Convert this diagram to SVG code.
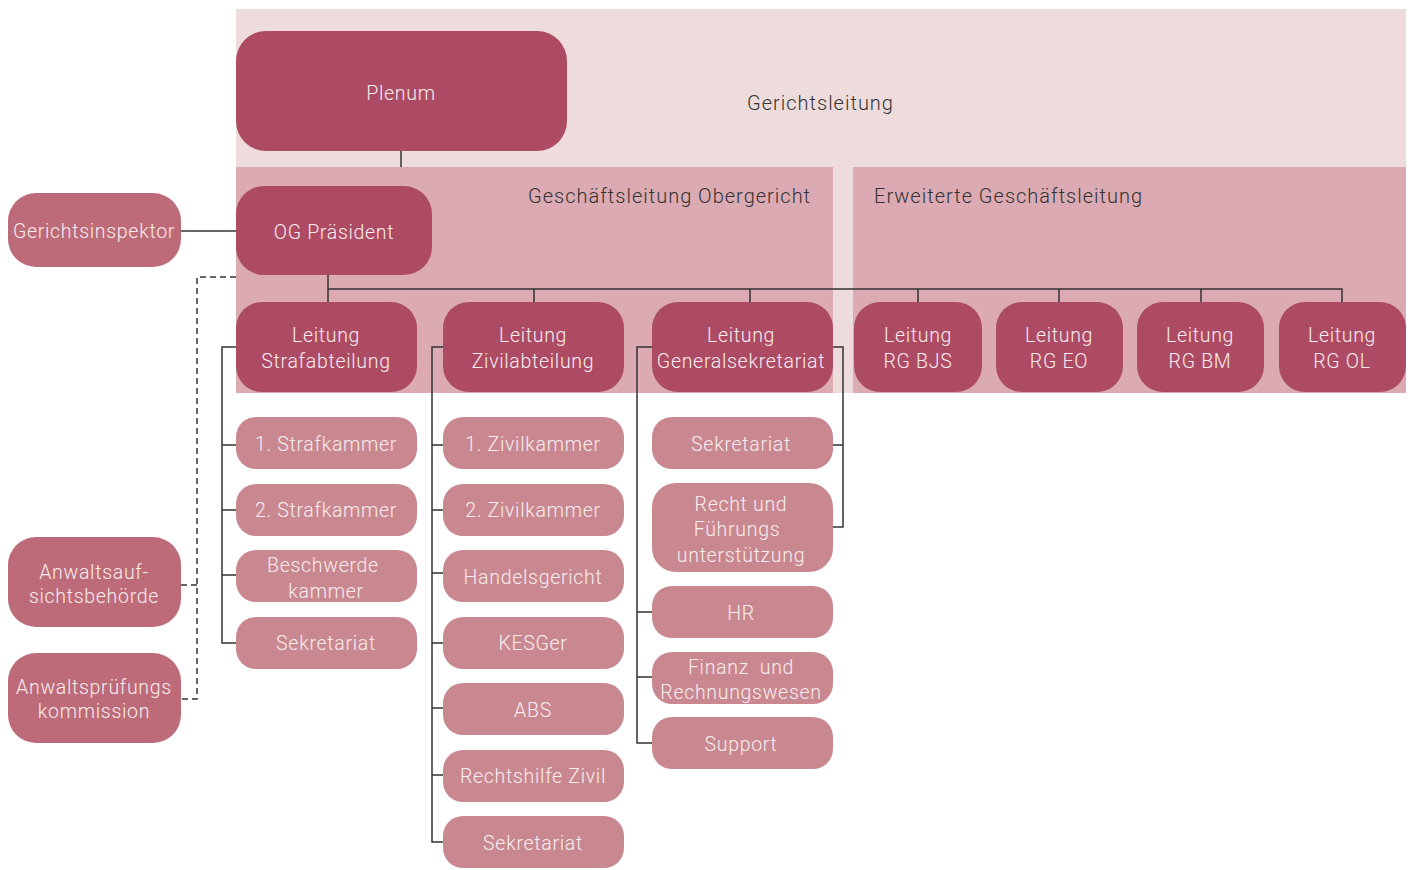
<svg xmlns="http://www.w3.org/2000/svg" width="1414" height="870" viewBox="0 0 1414 870">
<style>
text{font-family:Roboto,"Liberation Sans",sans-serif;font-weight:300;font-size:19.5px;letter-spacing:0.7px;text-anchor:middle;dominant-baseline:central;fill:#f8ecee}
.lbl{fill:#333;text-anchor:start;font-size:20px;letter-spacing:1px}
.dark{fill:#ad4b64}
.mid{fill:#bd6b78}
.light{fill:#c98890}
.ln{stroke:#333;stroke-width:1.5;fill:none}
.dash{stroke:#333;stroke-width:1.5;fill:none;stroke-dasharray:6 4}
</style>
<g id="backgrounds">
<rect x="236" y="9" width="1170" height="384" fill="#eedcdd"/>
<rect x="236" y="167" width="597" height="226" fill="#dbaab2"/>
<rect x="853" y="167" width="553" height="226" fill="#dbaab2"/>
<text class="lbl" x="747" y="103">Gerichtsleitung</text>
<text class="lbl" x="528" y="196">Geschäftsleitung Obergericht</text>
<text class="lbl" x="874" y="196">Erweiterte Geschäftsleitung</text>
</g>
<g id="connectors">
<path class="ln" d="M401 151V167"/>
<path class="ln" d="M181 231H236"/>
<path class="ln" d="M328 275V302M328 289H1342V302M534 289V302M750 289V302M918 289V302M1059 289V302M1201 289V302"/>
<path class="ln" d="M236 347H222V643H236M222 445H236M222 510H236M222 575H236"/>
<path class="ln" d="M443 347H432V842H443M432 445H443M432 510H443M432 573H443M432 643H443M432 708H443M432 775H443"/>
<path class="ln" d="M652 347H637V743H652M637 612H652M637 677H652"/>
<path class="ln" d="M832 347H843V527H832M843 445H832"/>
<path class="dash" d="M236 277H197V699H181M197 585H181"/>
</g>
<g id="plenum"><rect class="dark" x="236" y="31" width="331" height="120" rx="30"/><text x="401" y="93">Plenum</text></g>
<g id="og-praesident"><rect class="dark" x="236" y="186" width="196" height="89" rx="28"/><text x="334" y="232">OG Präsident</text></g>
<g id="gerichtsinspektor"><rect class="mid" x="8" y="193" width="173" height="74" rx="28"/><text x="94" y="231">Gerichtsinspektor</text></g>
<g id="anwaltsaufsicht"><rect class="mid" x="8" y="537" width="173" height="90" rx="28"/><text x="94" y="572">Anwaltsauf-</text><text x="94" y="596">sichtsbehörde</text></g>
<g id="anwaltspruefung"><rect class="mid" x="8" y="653" width="173" height="90" rx="28"/><text x="94" y="687">Anwaltsprüfungs</text><text x="94" y="711">kommission</text></g>

<g id="leitung-straf"><rect class="dark" x="236" y="302" width="181" height="90" rx="26"/><text x="326" y="335">Leitung</text><text x="326" y="361">Strafabteilung</text></g>
<g id="leitung-zivil"><rect class="dark" x="443" y="302" width="181" height="90" rx="26"/><text x="533" y="335">Leitung</text><text x="533" y="361">Zivilabteilung</text></g>
<g id="leitung-gensek"><rect class="dark" x="652" y="302" width="181" height="90" rx="26"/><text x="741" y="335">Leitung</text><text x="741" y="361">Generalsekretariat</text></g>
<g id="leitung-bjs"><rect class="dark" x="854" y="302" width="128" height="90" rx="26"/><text x="918" y="335">Leitung</text><text x="918" y="361">RG BJS</text></g>
<g id="leitung-eo"><rect class="dark" x="996" y="302" width="127" height="90" rx="26"/><text x="1059" y="335">Leitung</text><text x="1059" y="361">RG EO</text></g>
<g id="leitung-bm"><rect class="dark" x="1137" y="302" width="127" height="90" rx="26"/><text x="1200" y="335">Leitung</text><text x="1200" y="361">RG BM</text></g>
<g id="leitung-ol"><rect class="dark" x="1279" y="302" width="127" height="90" rx="26"/><text x="1342" y="335">Leitung</text><text x="1342" y="361">RG OL</text></g>

<g id="strafkammer1"><rect class="light" x="236" y="417" width="181" height="52" rx="20"/><text x="326" y="444">1. Strafkammer</text></g>
<g id="strafkammer2"><rect class="light" x="236" y="484" width="181" height="52" rx="20"/><text x="326" y="510">2. Strafkammer</text></g>
<g id="beschwerdekammer"><rect class="light" x="236" y="550" width="181" height="52" rx="20"/><text x="323" y="565">Beschwerde</text><text x="326" y="591">kammer</text></g>
<g id="sekretariat-straf"><rect class="light" x="236" y="617" width="181" height="52" rx="20"/><text x="326" y="643">Sekretariat</text></g>

<g id="zivilkammer1"><rect class="light" x="443" y="417" width="181" height="52" rx="20"/><text x="533" y="444">1. Zivilkammer</text></g>
<g id="zivilkammer2"><rect class="light" x="443" y="484" width="181" height="52" rx="20"/><text x="533" y="510">2. Zivilkammer</text></g>
<g id="handelsgericht"><rect class="light" x="443" y="550" width="181" height="52" rx="20"/><text x="533" y="577">Handelsgericht</text></g>
<g id="kesger"><rect class="light" x="443" y="617" width="181" height="52" rx="20"/><text x="533" y="643">KESGer</text></g>
<g id="abs"><rect class="light" x="443" y="683" width="181" height="52" rx="20"/><text x="533" y="710">ABS</text></g>
<g id="rechtshilfe"><rect class="light" x="443" y="750" width="181" height="52" rx="20"/><text x="533" y="776">Rechtshilfe Zivil</text></g>
<g id="sekretariat-zivil"><rect class="light" x="443" y="816" width="181" height="52" rx="20"/><text x="533" y="843">Sekretariat</text></g>

<g id="sekretariat-gs"><rect class="light" x="652" y="417" width="181" height="52" rx="20"/><text x="741" y="444">Sekretariat</text></g>
<g id="recht-fuehrung"><rect class="light" x="652" y="483" width="181" height="89" rx="24"/><text x="741" y="504">Recht und</text><text x="737" y="529">Führungs</text><text x="741" y="555">unterstützung</text></g>
<g id="hr"><rect class="light" x="652" y="586" width="181" height="52" rx="20"/><text x="741" y="613">HR</text></g>
<g id="finanz"><rect class="light" x="652" y="652" width="181" height="52" rx="20"/><text x="741" y="667" style="white-space:pre">Finanz  und</text><text x="741" y="692">Rechnungswesen</text></g>
<g id="support"><rect class="light" x="652" y="717" width="181" height="52" rx="20"/><text x="741" y="744">Support</text></g>
</svg>
